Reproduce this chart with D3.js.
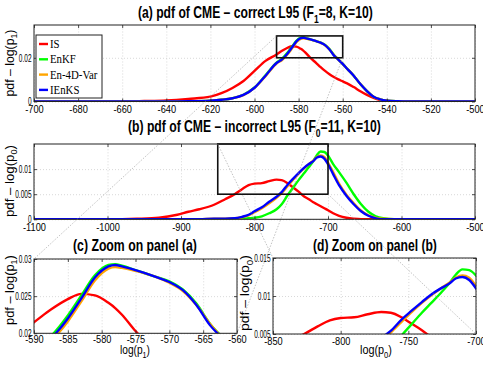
<!DOCTYPE html>
<html>
<head>
<meta charset="utf-8">
<script src="https://cdn.jsdelivr.net/npm/d3@7"></script>
<style>
body { margin: 0; background: #fff; }
.grid line { stroke: #c8c8c8; stroke-width: 0.7; stroke-dasharray: 1,2; }
.grid path { display: none; }
</style>
</head>
<body>
<div id="container"></div>
<script>
// ---- data ----
// (a)/(c) : correct L95, x = log(p1)
const xCorrect = [-700, -660, -650, -640, -630, -620, -615, -610, -605, -600, -595, -590, -587.5, -585, -583, -581, -579, -578, -577, -575, -572, -570, -568, -566, -564, -562, -560, -558, -555, -552, -549, -546, -543, -540, -535, -530, -520, -500]
const isCorrect = [0, 0, 0.0002, 0.0005, 0.0012, 0.0022, 0.0038, 0.0062, 0.0094, 0.0140, 0.0186, 0.0215, 0.0232, 0.0246, 0.0253, 0.0251, 0.0241, 0.0234, 0.0225, 0.0203, 0.0176, 0.0157, 0.0140, 0.0125, 0.0112, 0.0101, 0.0092, 0.0083, 0.0066, 0.0047, 0.0030, 0.0016, 0.0007, 0.0003, 0, 0, 0, 0]
const enkfCorrect = [0, 0, 0, 0, 0.0001, 0.0004, 0.0008, 0.0015, 0.0031, 0.0064, 0.0120, 0.0178, 0.0196, 0.0224, 0.0251, 0.0278, 0.0292, 0.0293, 0.0291, 0.0285, 0.0276, 0.0270, 0.0259, 0.0240, 0.0213, 0.0193, 0.0172, 0.0150, 0.0118, 0.0080, 0.0048, 0.0022, 0.0010, 0.0004, 0.0001, 0, 0, 0]
const en4dvarCorrect = [0, 0, 0, 0, 0.0001, 0.0004, 0.0008, 0.0015, 0.0029, 0.0062, 0.0116, 0.0174, 0.0190, 0.0216, 0.0243, 0.0271, 0.0287, 0.0289, 0.0288, 0.0284, 0.0276, 0.0268, 0.0257, 0.0238, 0.0213, 0.0192, 0.0172, 0.0150, 0.0118, 0.0080, 0.0048, 0.0022, 0.0010, 0.0004, 0.0001, 0, 0, 0]
const ienksCorrect = [0, 0, 0, 0, 0.0001, 0.0004, 0.0008, 0.0015, 0.0030, 0.0063, 0.0118, 0.0176, 0.0193, 0.0220, 0.0247, 0.0275, 0.0290, 0.0292, 0.0290, 0.0285, 0.0276, 0.0269, 0.0258, 0.0238, 0.0211, 0.0192, 0.0172, 0.0150, 0.0118, 0.0080, 0.0048, 0.0022, 0.0010, 0.0004, 0.0001, 0, 0, 0]

// (b)/(d) : incorrect L95, x = log(p0)
const xIncorrect = [-1100, -1000, -960, -930, -905, -890, -875, -855, -840, -827, -817, -808, -800, -790, -780, -770, -763, -755, -748, -740, -733, -726, -720, -715, -710, -705, -700, -693, -685, -675, -665, -655, -645, -635, -625, -610, -590, -500]
const isIncorrect = [0, 0, 0.0001, 0.0003, 0.0009, 0.0015, 0.0020, 0.0029, 0.0040, 0.0050, 0.0060, 0.0068, 0.0071, 0.0072, 0.0076, 0.0079, 0.0078, 0.0072, 0.0064, 0.0055, 0.0046, 0.0040, 0.0034, 0.0030, 0.0026, 0.0022, 0.0018, 0.0012, 0.0007, 0.0003, 0.0001, 0, 0, 0, 0, 0, 0, 0]
const enkfIncorrect = [0, 0, 0, 0, 0, 0, 0, 0, 0, 0.0001, 0.0001, 0.0002, 0.0003, 0.0006, 0.0012, 0.0020, 0.0030, 0.0048, 0.0062, 0.0078, 0.0091, 0.0104, 0.0116, 0.0128, 0.0135, 0.0134, 0.0127, 0.0110, 0.0094, 0.0073, 0.0050, 0.0030, 0.0015, 0.0006, 0.0002, 0, 0, 0]
const en4dvarIncorrect = [0, 0, 0, 0, 0, 0, 0, 0.0001, 0.0001, 0.0002, 0.0004, 0.0008, 0.0014, 0.0022, 0.0032, 0.0043, 0.0052, 0.0066, 0.0078, 0.0091, 0.0101, 0.0110, 0.0117, 0.0124, 0.0127, 0.0124, 0.0113, 0.0094, 0.0071, 0.0049, 0.0032, 0.0017, 0.0008, 0.0003, 0.0001, 0, 0, 0]
const ienksIncorrect = [0, 0, 0, 0, 0, 0, 0, 0.0001, 0.0001, 0.0002, 0.0005, 0.0009, 0.0016, 0.0024, 0.0035, 0.0045, 0.0054, 0.0069, 0.0080, 0.0092, 0.0102, 0.0110, 0.0116, 0.0123, 0.0125, 0.0121, 0.0110, 0.0090, 0.0068, 0.0047, 0.0030, 0.0016, 0.0007, 0.0002, 0, 0, 0, 0]

const methods = ["IS", "EnKF", "En-4D-Var", "IEnKS"]
const colors = ["#ff0000", "#00ff00", "#ffa500", "#0000ff"]

const xTicksA = [-700, -680, -660, -640, -620, -600, -580, -560, -540, -520, -500]
const yTicksA = [0, 0.02]
const xTicksB = [-1100, -1000, -900, -800, -700, -600, -500]
const yTicksB = [0, 0.005, 0.01]
const xTicksC = [-590, -585, -580, -575, -570, -565, -560]
const yTicksC = [0.02, 0.025, 0.03]
const xTicksD = [-850, -800, -750, -700]
const yTicksD = [0.005, 0.01, 0.015]

// ---- chart ----
const W = 483, H = 368
const SANS = "'Liberation Sans', Arial, sans-serif"
const SERIF = "'Liberation Serif', 'Times New Roman', serif"

const svg = d3.select("#container").append("svg")
	.attr("width", W)
	.attr("height", H)
	.style("font-family", SANS)

const correct = [isCorrect, enkfCorrect, en4dvarCorrect, ienksCorrect]
	.map((ys, i) => ({ key: methods[i], value: xCorrect.map((x, j) => ({ x: x, y: ys[j] })) }))
const incorrect = [isIncorrect, enkfIncorrect, en4dvarIncorrect, ienksIncorrect]
	.map((ys, i) => ({ key: methods[i], value: xIncorrect.map((x, j) => ({ x: x, y: ys[j] })) }))

const panels = [
	{ id: "a", left: 34, right: 475, top: 25, bottom: 101.5, xd: [-700, -500], yd: [0, 0.035], xt: xTicksA, yt: yTicksA, data: correct, pad: 4 },
	{ id: "b", left: 34, right: 475, top: 144, bottom: 219.3, xd: [-1100, -500], yd: [0, 0.015], xt: xTicksB, yt: yTicksB, data: incorrect, pad: 4 },
	{ id: "c", left: 34, right: 237, top: 259, bottom: 333.3, xd: [-590, -560], yd: [0.02, 0.03], xt: xTicksC, yt: yTicksC, data: correct, pad: 2 },
	{ id: "d", left: 273, right: 476, top: 258, bottom: 334, xd: [-850, -700], yd: [0.005, 0.015], xt: xTicksD, yt: yTicksD, data: incorrect, pad: 4 }
]

const fmt = d => String(d)

// squeeze tick labels horizontally like the matlab export
function squeeze(sel, k) {
	sel.each(function() {
		const len = this.getComputedTextLength()
		d3.select(this).attr("textLength", len * k).attr("lengthAdjust", "spacingAndGlyphs")
	})
}

panels.forEach(p => {
	p.x = d3.scaleLinear().domain(p.xd).range([p.left, p.right])
	p.y = d3.scaleLinear().domain(p.yd).range([p.bottom, p.top])
	const w = p.right - p.left, h = p.bottom - p.top

	svg.append("clipPath").attr("id", "clip" + p.id)
		.append("rect").attr("x", p.left).attr("y", p.top).attr("width", w).attr("height", h)

	const g = svg.append("g").attr("class", "panel")

	// grid
	g.append("g").attr("class", "grid")
		.attr("transform", `translate(0,${p.bottom})`)
		.call(d3.axisBottom(p.x).tickValues(p.xt).tickSize(-h).tickFormat(""))
	g.append("g").attr("class", "grid")
		.attr("transform", `translate(${p.left},0)`)
		.call(d3.axisLeft(p.y).tickValues(p.yt).tickSize(-w).tickFormat(""))

	// curves
	const line = d3.line()
		.x(d => p.x(d.x))
		.y(d => p.y(d.y))
		.curve(d3.curveMonotoneX)
	g.append("g").attr("clip-path", `url(#clip${p.id})`)
		.selectAll("path")
		.data(p.data)
		.enter().append("path")
		.attr("fill", "none")
		.attr("stroke", (d, i) => colors[i])
		.attr("stroke-width", 2.4)
		.attr("stroke-linejoin", "round")
		.attr("d", d => line(d.value))

	// axes (matlab style, ticks inward, box)
	const xa = g.append("g").attr("transform", `translate(0,${p.bottom})`)
		.call(d3.axisBottom(p.x).tickValues(p.xt).tickSize(-3).tickPadding(p.pad).tickFormat(fmt))
	const ya = g.append("g").attr("transform", `translate(${p.left},0)`)
		.call(d3.axisLeft(p.y).tickValues(p.yt).tickSize(-3).tickPadding(2.5).tickFormat(fmt))
	g.append("g").attr("transform", `translate(0,${p.top})`)
		.call(d3.axisTop(p.x).tickValues(p.xt).tickSize(-3).tickFormat(""))
	g.append("g").attr("transform", `translate(${p.right},0)`)
		.call(d3.axisRight(p.y).tickValues(p.yt).tickSize(-3).tickFormat(""))
	g.selectAll(".domain").remove()
	g.selectAll("g:not(.grid) > .tick line").attr("stroke", "#222").attr("stroke-width", 0.8)
	xa.attr("font-family", null).attr("font-size", 10.5)
	ya.attr("font-family", null).attr("font-size", 10.5)
	xa.selectAll("text").attr("fill", "#000")
	ya.selectAll("text").attr("fill", "#000")
	squeeze(xa.selectAll("text"), 0.88)
	squeeze(ya.selectAll("text"), 0.62)

	g.append("rect")
		.attr("x", p.left).attr("y", p.top)
		.attr("width", w).attr("height", h)
		.attr("fill", "none").attr("stroke", "#222").attr("stroke-width", 1)
})

// zoom rectangles on (a) and (b)
const pa = panels[0], pb = panels[1], pc = panels[2], pd = panels[3]
function zoomRect(p, q) {
	svg.append("rect")
		.attr("x", p.x(q.xd[0])).attr("y", p.y(q.yd[1]))
		.attr("width", p.x(q.xd[1]) - p.x(q.xd[0]))
		.attr("height", p.y(q.yd[0]) - p.y(q.yd[1]))
		.attr("fill", "none").attr("stroke", "#111").attr("stroke-width", 1.6)
}
zoomRect(pa, pc)
zoomRect(pb, pd)

// text helper: draws text then squeezes it to a given length
function fitText(x, y, len, parts, size, opts) {
	opts = opts || {}
	const g = svg.append("g")
	const t = g.append("text")
		.attr("font-size", size)
		.attr("font-weight", opts.bold ? "bold" : null)
		.attr("fill", "#000")
	let shift = 0
	parts.forEach(s => {
		if (typeof s === "string") {
			t.append("tspan").attr("dy", -shift).text(s)
			shift = 0
		} else {
			shift = size * 0.3
			t.append("tspan").attr("font-size", size * 0.7).attr("dy", shift).text(s.sub)
		}
	})
	const bw = t.node().getBBox().width
	const sx = len / bw
	if (opts.rotate) {
		g.attr("transform", `translate(${x},${y + len / 2}) rotate(-90) scale(${sx},1)`)
	} else {
		g.attr("transform", `translate(${x - len / 2},${y}) scale(${sx},1)`)
	}
	return g
}

// titles
fitText(255.5, 18, 235, ["(a) pdf of CME \u2013 correct L95 (F", { sub: "1" }, "=8, K=10)"], 16, { bold: true })
fitText(254.5, 132, 253, ["(b) pdf of CME \u2013 incorrect L95 (F", { sub: "0" }, "=11, K=10)"], 16, { bold: true })
fitText(135, 251, 124, ["(c) Zoom on panel (a)"], 16, { bold: true })
fitText(375, 251, 124, ["(d) Zoom on panel (b)"], 16, { bold: true })

// axis labels
fitText(13.5, 63, 67, ["pdf \u2013 log(p", { sub: "1" }, ")"], 12.5, { rotate: true })
fitText(13.5, 181, 72, ["pdf \u2013 log(p", { sub: "0" }, ")"], 12.5, { rotate: true })
fitText(13.5, 290, 70, ["pdf \u2013 log(p", { sub: "1" }, ")"], 12.5, { rotate: true })
fitText(249, 293, 76, ["pdf \u2013 log(p", { sub: "0" }, ")"], 12.5, { rotate: true })
fitText(135, 354, 30, ["log(p", { sub: "1" }, ")"], 12.5)
fitText(376, 354, 32, ["log(p", { sub: "0" }, ")"], 12.5)

// legend
const leg = svg.append("g").attr("transform", "translate(36,35)")
leg.append("rect").attr("width", 66).attr("height", 63)
	.attr("fill", "#fff").attr("stroke", "#222").attr("stroke-width", 1)
methods.forEach((m, i) => {
	const yy = 9 + i * 15.3
	leg.append("line").attr("x1", 3).attr("x2", 12).attr("y1", yy).attr("y2", yy)
		.attr("stroke", colors[i]).attr("stroke-width", 2.4)
	leg.append("text").attr("x", 14).attr("y", yy + 4)
		.style("font-family", SERIF).attr("font-size", 12)
		.text(m)
})
squeeze(leg.selectAll("text"), 0.9)

// connector lines from the zoom rectangles to the zoom panels
const links = [
	[pa.x(pc.xd[0]), pa.y(pc.yd[1]), pc.left, pc.top],
	[pa.x(pc.xd[1]), pa.y(pc.yd[0]), pc.right, pc.bottom],
	[pb.x(pd.xd[0]), pb.y(pd.yd[1]), pd.left, pd.top],
	[pb.x(pd.xd[1]), pb.y(pd.yd[0]), pd.right, pd.bottom]
]
svg.selectAll(".link").data(links).enter().append("line")
	.attr("class", "link")
	.attr("x1", d => d[0]).attr("y1", d => d[1])
	.attr("x2", d => d[2]).attr("y2", d => d[3])
	.attr("stroke", "#999").attr("stroke-width", 0.6)
	.attr("stroke-dasharray", "1.5,1.5")
</script>
</body>
</html>
